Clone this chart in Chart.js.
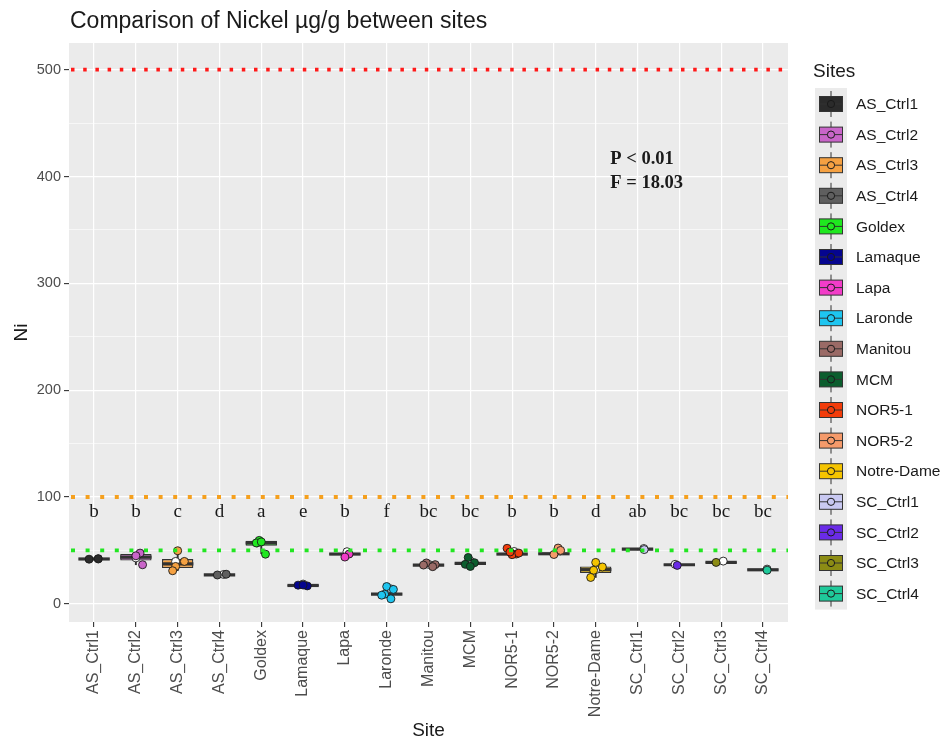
<!DOCTYPE html>
<html>
<head>
<meta charset="utf-8">
<title>Nickel by site</title>
<script src="https://cdn.jsdelivr.net/npm/chart.js@4/dist/chart.umd.min.js"></script>
<style>
  html, body { margin: 0; padding: 0; background: #ffffff; }
  #wrap { width: 940px; height: 742px; }
</style>
</head>
<body>
<div id="wrap"><canvas id="chart" width="940" height="742"></canvas></div>
<script>
// ---- data -------------------------------------------------------------
const sites = ['AS_Ctrl1', 'AS_Ctrl2', 'AS_Ctrl3', 'AS_Ctrl4', 'Goldex', 'Lamaque', 'Lapa',
  'Laronde', 'Manitou', 'MCM', 'NOR5-1', 'NOR5-2', 'Notre-Dame', 'SC_Ctrl1', 'SC_Ctrl2',
  'SC_Ctrl3', 'SC_Ctrl4'];

// box statistics (µg/g)
const boxLow    = [41.0, 36.6, 31.0, 26.6, 47.0, 16.4, 45.6, 8.2, 35.6, 35.0, 46.0, 46.2, 24.7, 50.6, 36.0, 38.2, 31.2];
const boxQ1     = [41.5, 40.6, 33.5, 26.8, 54.4, 16.6, 45.9, 8.5, 35.8, 37.2, 46.1, 46.4, 28.8, 50.8, 36.1, 38.3, 31.4];
const boxMedian = [42.0, 43.7, 37.5, 27.2, 57.0, 17.2, 46.6, 9.1, 36.3, 37.8, 46.6, 46.9, 32.0, 51.3, 36.6, 38.8, 31.9];
const boxQ3     = [42.5, 46.6, 41.9, 27.7, 59.0, 17.8, 47.3, 9.8, 36.8, 38.4, 47.1, 47.4, 35.0, 51.8, 37.1, 39.3, 32.4];
const boxHigh   = [43.0, 47.5, 49.7, 27.9, 60.0, 18.0, 47.6, 10.2, 37.2, 38.6, 47.4, 47.6, 38.8, 52.0, 37.3, 39.5, 32.6];

// individual samples per site
const sampleValues = [
  [41.8, 42.3],
  [47.5, 45.0, 36.6],
  [49.7, 39.7, 35.0, 31.0],
  [27.7, 27.0],
  [59.4, 57.0, 46.5, 58.0],
  [17.5, 16.8, 17.6],
  [46.6, 43.8],
  [16.2, 13.5, 9.0, 8.1, 4.7],
  [36.7, 38.3, 36.3, 34.8],
  [43.4, 37.0, 38.5, 35.0],
  [52.0, 46.6, 46.0, 47.5, 48.5],
  [52.2, 46.2, 50.0],
  [38.8, 34.5, 31.4, 24.7],
  [50.8],
  [36.0],
  [38.8],
  [31.5]
];

// site means (open circles)
const siteMeans = [42.0, 43.0, 39.7, 27.5, 57.0, 18.5, 48.8, 14.0, 37.0, 40.0, 49.0, 49.5, 32.0, 51.8, 37.0, 40.0, 32.5];

// Tukey grouping letters
const groupLetters = ['b', 'b', 'c', 'd', 'a', 'e', 'b', 'f', 'bc', 'bc', 'b', 'b', 'd', 'ab', 'bc', 'bc', 'bc'];
const letterLevel = 86;

// guideline values
const thresholdValues = [500, 100, 50];

// axis ticks
const yGridValues = [0, 50, 100, 150, 200, 250, 300, 350, 400, 450, 500];
const yLabelStep = 100;

const statLines = ['P < 0.01', 'F = 18.03'];

// ---- styling ------------------------------------------------------------
const siteColors = ['#2b2b2b', '#c965c9', '#f5a142', '#5f5f5f', '#1fe81f', '#05058f', '#f23cc8',
  '#1ec5f0', '#9a6a66', '#0b5e2e', '#f23c0a', '#f59a6a', '#f5c400', '#c9c9f2', '#6a2be8',
  '#8c8c14', '#1fc99a'];
const thresholdColors = ['#ff1a1a', '#f5a01e', '#22e622'];
const thresholdDash = [[3.5, 8.7], [4, 10.6], [4, 10.6]];
const SANS = '"Liberation Sans", Arial, sans-serif';
const SERIF = '"Liberation Serif", "Times New Roman", serif';
const INK = '#1a1a1a';
const BOX_LINE = '#333333';
const DOT_RADIUS = 4;

// deterministic horizontal spread of the sample dots
function spread(site, k) {
  const pattern = [-0.12, 0.1, 0.0, 0.16, -0.05];
  return pattern[(k + site) % pattern.length];
}
function meanShift(site) {
  const pattern = [0.1, 0.0, -0.05, 0.1, -0.1, 0.0, 0.05, 0.1, 0.0, 0.0, 0.05, 0.15, 0.0, 0.15, -0.1, 0.05, 0.1];
  return pattern[site];
}

// ---- datasets --------------------------------------------------------------
const whiskerData = sites.map((s, i) => ({ x: i, y: [boxLow[i], boxHigh[i]] }));
const boxData = sites.map((s, i) => ({ x: i, y: [boxQ1[i], boxQ3[i]] }));
const medianData = sites.map((s, i) => ({ x: i, y: boxMedian[i] }));
const meanData = sites.map((s, i) => ({ x: i + meanShift(i), y: siteMeans[i] }));
const sampleData = [];
const sampleFill = [];
sampleValues.forEach((vals, i) => {
  vals.forEach((v, k) => {
    sampleData.push({ x: i + spread(i, k), y: v });
    sampleFill.push(siteColors[i]);
  });
});

// ---- plugins -------------------------------------------------------------
const panelBackground = {
  id: 'panelBackground',
  beforeDraw(chart) {
    const { ctx, chartArea: a } = chart;
    ctx.save();
    ctx.fillStyle = '#ebebeb';
    ctx.fillRect(a.left, a.top, a.right - a.left, a.bottom - a.top);
    ctx.restore();
  }
};

const overlays = {
  id: 'overlays',
  afterDatasetsDraw(chart) {
    const { ctx, chartArea: a, scales: { x, y } } = chart;
    ctx.save();
    // guideline values
    thresholdValues.forEach((v, i) => {
      const py = y.getPixelForValue(v);
      ctx.beginPath();
      ctx.setLineDash(thresholdDash[i]);
      ctx.lineWidth = 3.8;
      ctx.strokeStyle = thresholdColors[i];
      ctx.moveTo(a.left + 2, py);
      ctx.lineTo(a.right, py);
      ctx.stroke();
    });
    ctx.setLineDash([]);
    // grouping letters
    ctx.fillStyle = INK;
    ctx.font = '19px ' + SERIF;
    ctx.textAlign = 'center';
    ctx.textBaseline = 'middle';
    groupLetters.forEach((t, i) => {
      ctx.fillText(t, x.getPixelForValue(i), y.getPixelForValue(letterLevel));
    });
    // test statistics
    ctx.font = 'bold 18.5px ' + SERIF;
    ctx.textAlign = 'left';
    ctx.fillText(statLines[0], x.getPixelForValue(12.35), y.getPixelForValue(416));
    ctx.fillText(statLines[1], x.getPixelForValue(12.35), y.getPixelForValue(394));
    ctx.restore();
  }
};

const frameText = {
  id: 'frameText',
  afterDraw(chart) {
    const { ctx, chartArea: a } = chart;
    ctx.save();
    // title
    ctx.fillStyle = INK;
    ctx.font = '23px ' + SANS;
    ctx.textAlign = 'left';
    ctx.textBaseline = 'middle';
    ctx.fillText('Comparison of Nickel µg/g between sites', a.left + 1, 22);

    // legend
    const lx = 815, top0 = 104, step = 30.6;
    ctx.font = '19px ' + SANS;
    ctx.fillText('Sites', 813, 72);
    ctx.fillStyle = '#ebebeb';
    ctx.fillRect(lx, top0 - 16, 32, step * (sites.length - 1) + 32);
    sites.forEach((s, i) => {
      const cy = top0 + i * step;
      const cx = lx + 16;
      ctx.strokeStyle = BOX_LINE;
      ctx.lineWidth = 1;
      ctx.beginPath();
      ctx.moveTo(cx, cy - 13);
      ctx.lineTo(cx, cy + 13);
      ctx.stroke();
      ctx.fillStyle = siteColors[i];
      ctx.fillRect(lx + 4, cy - 7.5, 24, 15);
      ctx.strokeRect(lx + 4.5, cy - 7.5, 23, 15);
      ctx.beginPath();
      ctx.moveTo(lx + 4, cy);
      ctx.lineTo(lx + 28, cy);
      ctx.stroke();
      ctx.beginPath();
      ctx.arc(cx, cy, 3.6, 0, Math.PI * 2);
      ctx.fillStyle = siteColors[i];
      ctx.fill();
      ctx.strokeStyle = INK;
      ctx.stroke();
      ctx.fillStyle = INK;
      ctx.font = '15.5px ' + SANS;
      ctx.fillText(s, 856, cy + 1);
    });
    ctx.restore();
  }
};

// ---- chart -----------------------------------------------------------------
new Chart(document.getElementById('chart'), {
  type: 'bar',
  data: {
    datasets: [
      {
        type: 'bar', label: 'whisker', data: whiskerData, order: 5, grouped: false,
        backgroundColor: BOX_LINE, barThickness: 1.3, borderWidth: 0
      },
      {
        type: 'bar', label: 'box', data: boxData, order: 4, grouped: false,
        backgroundColor: siteColors, borderColor: BOX_LINE, borderWidth: 1.3,
        borderSkipped: false, barPercentage: 0.75, categoryPercentage: 1
      },
      {
        type: 'scatter', label: 'median', data: medianData, order: 3,
        pointStyle: 'line', pointRadius: 15.7, borderColor: BOX_LINE, borderWidth: 3.2,
        pointHoverRadius: 15.7
      },
      {
        type: 'scatter', label: 'mean', data: meanData, order: 2,
        pointRadius: DOT_RADIUS, backgroundColor: '#ffffff', borderColor: INK, borderWidth: 0.9
      },
      {
        type: 'scatter', label: 'samples', data: sampleData, order: 1,
        pointRadius: DOT_RADIUS, backgroundColor: sampleFill, borderColor: INK, borderWidth: 0.9
      }
    ]
  },
  options: {
    responsive: false,
    animation: false,
    devicePixelRatio: 1,
    layout: { padding: { top: 43, right: 152, left: 0, bottom: 0 } },
    plugins: { legend: { display: false }, tooltip: { enabled: false } },
    scales: {
      x: {
        type: 'linear', min: -0.6, max: 16.6, offset: false,
        afterBuildTicks: s => { s.ticks = sites.map((_, i) => ({ value: i })); },
        afterFit: s => { s.height = 120; },
        ticks: {
          autoSkip: false, minRotation: 90, maxRotation: 90, padding: 3,
          color: '#4d4d4d', font: { family: SANS, size: 16 },
          callback: v => sites[v]
        },
        grid: { offset: false, color: '#ffffff', lineWidth: 1.2, tickColor: BOX_LINE, tickLength: 5, tickWidth: 1.1 },
        border: { display: false },
        title: { display: true, text: 'Site', color: INK, font: { family: SANS, size: 19 }, padding: { top: 0, bottom: 0 } }
      },
      y: {
        type: 'linear', min: -17, max: 525,
        afterBuildTicks: s => { s.ticks = yGridValues.map(v => ({ value: v })); },
        afterFit: s => { s.width = 69; },
        ticks: {
          padding: 3, color: '#4d4d4d', font: { family: SANS, size: 14.5 },
          callback: v => (v % yLabelStep === 0 ? String(v) : '')
        },
        grid: {
          color: '#ffffff',
          lineWidth: c => (c.tick && c.tick.value % yLabelStep === 0 ? 1.2 : 0.6),
          tickColor: c => (c.tick && c.tick.value % yLabelStep === 0 ? BOX_LINE : 'rgba(0,0,0,0)'),
          tickLength: 5, tickWidth: 1.1
        },
        border: { display: false },
        title: { display: true, text: 'Ni', color: INK, font: { family: SANS, size: 19 }, padding: { top: 10, bottom: 0 } }
      }
    }
  },
  plugins: [panelBackground, overlays, frameText]
});
</script>
</body>
</html>
